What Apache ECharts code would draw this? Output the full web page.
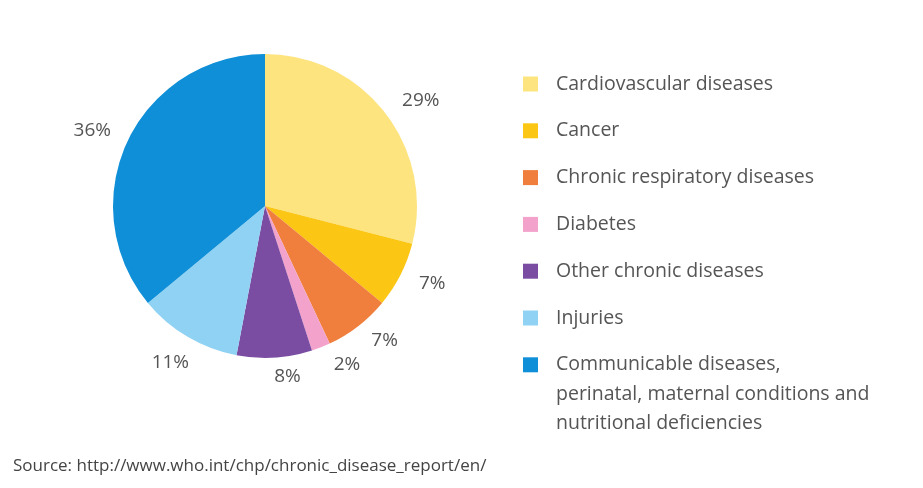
<!DOCTYPE html>
<html>
<head>
<meta charset="utf-8">
<style>
  html, body { margin: 0; padding: 0; background: #ffffff; }
  #chart { width: 923px; height: 488px; }
</style>
<script src="https://cdn.jsdelivr.net/npm/echarts@6/dist/echarts.min.js"></script>
</head>
<body>
<div id="chart"></div>
<script>
// Share of deaths by cause (percent), clockwise from 12 o'clock
const categories = [
  'Cardiovascular diseases',
  'Cancer',
  'Chronic respiratory diseases',
  'Diabetes',
  'Other chronic diseases',
  'Injuries',
  'Communicable diseases, perinatal, maternal conditions and nutritional deficiencies'
];
const shares = [29, 7, 7, 2, 8, 11, 36];
// Long legend entry: first line sits beside the swatch, the rest wraps below
const wrappedLegend = {
  'Communicable diseases, perinatal, maternal conditions and nutritional deficiencies':
    ['Communicable diseases,', 'perinatal, maternal conditions and', 'nutritional deficiencies']
};
const colors = ['#fde47f', '#fcc614', '#f07f3e', '#f2a2cb', '#7a4da2', '#8fd2f3', '#0e8fd7'];
const sourceNote = 'Source: http://www.who.int/chp/chronic_disease_report/en/';

const FONT = '"Open Sans", "DejaVu Sans", sans-serif';
const TEXT = '#555555';
// small per-label nudges (px) so the crowded bottom percentages sit snugly
const labelNudge = [[7, 6], [0, -5], [3, -9], [10, -11], [6, -11], [3, 0], [-3, 2]];

const chart = echarts.init(document.getElementById('chart'), null, { renderer: 'canvas' });

const wrapName = categories.find(n => wrappedLegend[n]);
const wrapLines = wrappedLegend[wrapName];

chart.setOption({
  backgroundColor: '#ffffff',
  color: colors,
  animation: false,
  legend: {
    orient: 'vertical',
    left: 523,
    top: 72,
    height: 400,
    padding: 0,
    itemWidth: 15,
    itemHeight: 15,
    itemGap: 22.8,
    icon: 'rect',
    selectedMode: false,
    textStyle: { fontFamily: FONT, fontSize: 19.5, color: TEXT, lineHeight: 24, padding: [0, 0, 0, 13] },
    data: categories,
    formatter: name => wrappedLegend[name] ? wrappedLegend[name][0] : name
  },
  graphic: [
    {
      type: 'text',
      x: 556,
      y: 380,
      style: {
        text: wrapLines.slice(1).join('\n'),
        fontFamily: FONT, fontSize: 19.5, lineHeight: 29, fill: TEXT, verticalAlign: 'top'
      }
    },
    {
      type: 'text',
      x: 13,
      y: 466,
      style: { text: sourceNote, fontFamily: FONT, fontSize: 17, fill: '#444444', verticalAlign: 'middle' }
    }
  ],
  series: [{
    type: 'pie',
    center: [265, 206],
    radius: [0, 152],
    startAngle: 90,
    clockwise: true,
    silent: true,
    avoidLabelOverlap: false,
    label: {
      show: true,
      position: 'outside',
      formatter: p => p.value + '%',
      fontFamily: FONT,
      fontSize: 19,
      color: TEXT
    },
    labelLine: { show: false, length: 30, length2: 0 },
    // percentages are centred past each slice's bisector, then nudged
    labelLayout: p => ({
      align: 'center',
      verticalAlign: 'middle',
      dx: labelNudge[p.dataIndex][0],
      dy: labelNudge[p.dataIndex][1]
    }),
    itemStyle: { borderWidth: 0 },
    data: categories.map((name, i) => ({ name, value: shares[i] }))
  }]
});
</script>
</body>
</html>
